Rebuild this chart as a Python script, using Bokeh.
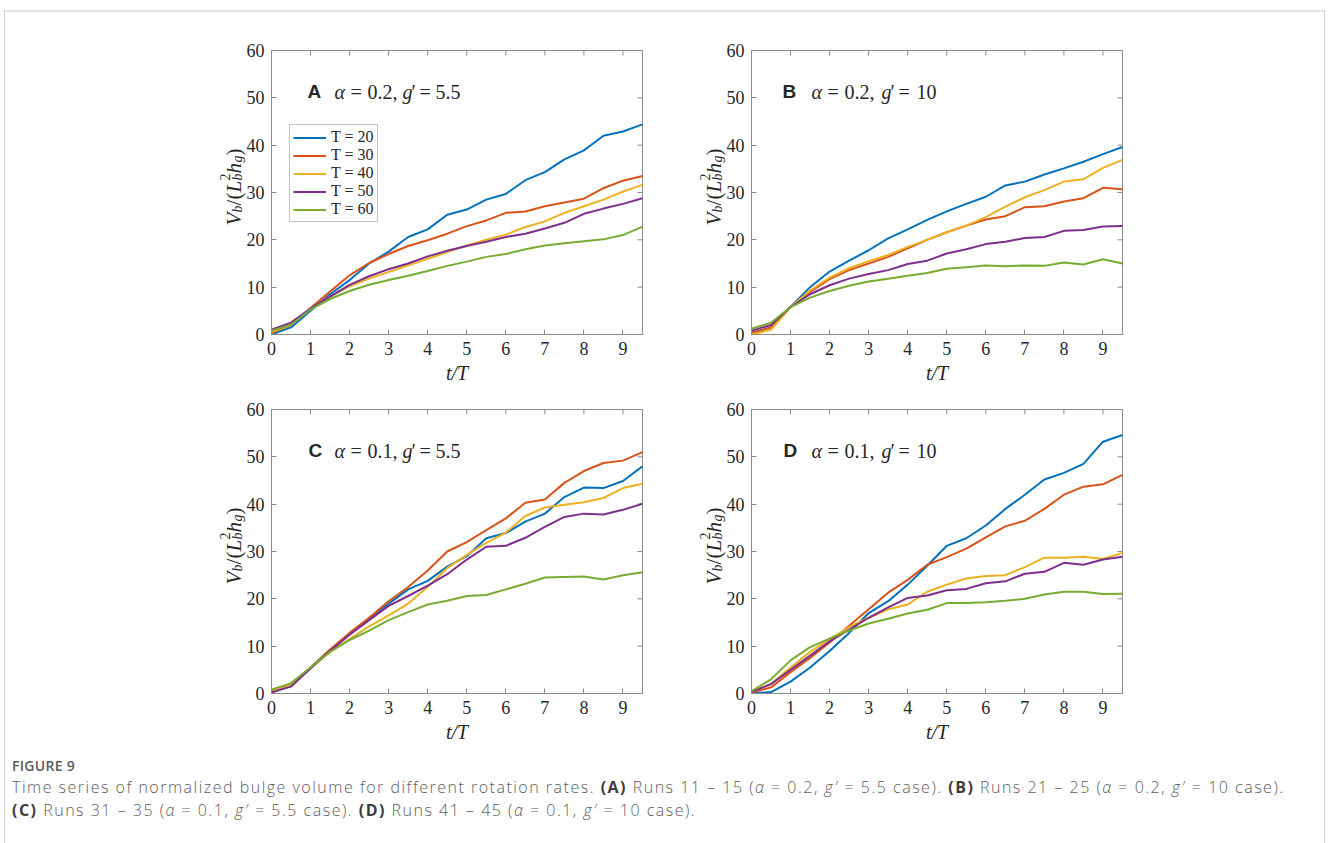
import math
from bokeh.plotting import figure
from bokeh.models import Label, Legend, LegendItem, FixedTicker, Range1d, Div
from bokeh.layouts import column, row
from bokeh.embed import file_html
from bokeh.resources import INLINE

# ---------------- data ----------------
t = [0.0, 0.5, 1.0, 1.5, 2.0, 2.5, 3.0, 3.5, 4.0, 4.5,
     5.0, 5.5, 6.0, 6.5, 7.0, 7.5, 8.0, 8.5, 9.0, 9.5]

series_labels = ["T = 20", "T = 30", "T = 40", "T = 50", "T = 60"]
colors = ["#0072BD", "#D95319", "#EDB120", "#7E2F8E", "#77AC30"]
x_ticks = [0, 1, 2, 3, 4, 5, 6, 7, 8, 9]
y_ticks = [0, 10, 20, 30, 40, 50, 60]

# Panel A: alpha = 0.2, g' = 5.5
a_T20 = [0.0, 1.5, 5.0, 8.5, 11.5, 15.0, 17.5, 20.6, 22.2, 25.3, 26.4, 28.5, 29.7, 32.6, 34.3, 37.0, 38.9, 42.0, 42.9, 44.4]
a_T30 = [0.3, 2.0, 5.6, 9.1, 12.5, 15.1, 17.0, 18.7, 19.9, 21.3, 22.9, 24.1, 25.7, 26.0, 27.1, 27.9, 28.7, 30.9, 32.5, 33.5]
a_T40 = [0.5, 2.0, 5.5, 8.0, 10.2, 11.8, 13.2, 14.6, 16.0, 17.4, 18.8, 20.0, 21.1, 22.7, 23.9, 25.7, 27.1, 28.5, 30.2, 31.6]
a_T50 = [1.0, 2.5, 5.5, 8.0, 10.5, 12.3, 13.8, 15.0, 16.5, 17.7, 18.7, 19.6, 20.6, 21.3, 22.4, 23.6, 25.5, 26.6, 27.6, 28.8]
a_T60 = [0.8, 2.0, 5.3, 7.5, 9.2, 10.5, 11.5, 12.4, 13.4, 14.5, 15.4, 16.4, 17.0, 18.0, 18.8, 19.3, 19.7, 20.1, 21.0, 22.8]

# Panel B: alpha = 0.2, g' = 10
b_T20 = [0.3, 1.5, 5.8, 10.0, 13.3, 15.6, 17.8, 20.3, 22.2, 24.2, 26.0, 27.6, 29.1, 31.5, 32.3, 33.8, 35.1, 36.5, 38.1, 39.6]
b_T30 = [0.3, 1.5, 5.8, 9.0, 11.7, 13.6, 15.0, 16.4, 18.2, 20.0, 21.6, 23.0, 24.3, 25.0, 26.9, 27.1, 28.1, 28.8, 31.0, 30.7]
b_T40 = [0.0, 1.0, 5.8, 9.3, 12.0, 14.0, 15.5, 16.8, 18.5, 20.0, 21.6, 23.0, 24.8, 27.0, 29.0, 30.5, 32.3, 32.8, 35.2, 36.9]
b_T50 = [0.8, 2.0, 5.8, 8.5, 10.4, 11.8, 12.8, 13.6, 14.9, 15.6, 17.1, 18.0, 19.1, 19.6, 20.4, 20.6, 21.9, 22.1, 22.8, 22.9]
b_T60 = [1.2, 2.5, 5.8, 7.8, 9.2, 10.3, 11.2, 11.8, 12.4, 13.0, 13.9, 14.2, 14.6, 14.4, 14.6, 14.5, 15.2, 14.8, 15.9, 15.0]

# Panel C: alpha = 0.1, g' = 5.5
c_T20 = [0.3, 1.5, 5.5, 9.2, 12.6, 15.8, 19.0, 22.0, 23.8, 26.8, 29.0, 32.8, 33.9, 36.3, 38.0, 41.5, 43.5, 43.4, 44.9, 48.0]
c_T30 = [0.5, 1.8, 5.5, 9.3, 12.8, 16.0, 19.5, 22.5, 26.0, 30.0, 32.0, 34.5, 37.0, 40.3, 41.0, 44.5, 47.0, 48.7, 49.2, 51.0]
c_T40 = [0.5, 1.8, 5.5, 8.8, 11.5, 14.2, 16.5, 19.0, 22.5, 26.5, 29.3, 31.8, 34.0, 37.5, 39.3, 39.9, 40.4, 41.3, 43.4, 44.3]
c_T50 = [0.2, 1.5, 5.3, 9.0, 12.4, 15.5, 18.5, 20.6, 22.8, 25.2, 28.3, 31.0, 31.2, 32.9, 35.2, 37.3, 38.0, 37.8, 38.8, 40.1]
c_T60 = [0.8, 2.2, 5.5, 8.8, 11.3, 13.3, 15.5, 17.2, 18.8, 19.6, 20.6, 20.8, 22.0, 23.2, 24.5, 24.6, 24.7, 24.1, 25.0, 25.6]

# Panel D: alpha = 0.1, g' = 10
d_T20 = [0.0, 0.3, 2.5, 5.5, 9.0, 12.8, 17.0, 19.5, 23.0, 27.0, 31.2, 32.8, 35.5, 39.0, 42.0, 45.2, 46.6, 48.5, 53.2, 54.6]
d_T30 = [0.2, 1.3, 4.5, 7.5, 10.8, 14.3, 17.8, 21.3, 24.0, 27.2, 28.8, 30.6, 33.0, 35.3, 36.5, 39.0, 42.0, 43.7, 44.2, 46.2]
d_T40 = [0.3, 2.0, 5.5, 8.8, 11.5, 14.0, 16.0, 17.8, 18.8, 21.5, 23.0, 24.3, 24.8, 25.0, 26.7, 28.7, 28.7, 28.9, 28.4, 29.7]
d_T50 = [0.3, 2.0, 5.0, 8.0, 11.0, 13.5, 16.0, 18.2, 20.2, 20.7, 21.8, 22.1, 23.3, 23.7, 25.3, 25.7, 27.6, 27.2, 28.3, 28.9]
d_T60 = [0.5, 3.0, 7.0, 9.8, 11.6, 13.3, 14.8, 15.8, 16.9, 17.7, 19.1, 19.1, 19.3, 19.6, 20.0, 20.9, 21.5, 21.5, 21.0, 21.1]

panel_letters = ["A", "B", "C", "D"]
alpha_vals = ["0.2,", "0.2,", "0.1,", "0.1,"]
gprime_vals = ["5.5", "10", "5.5", "10"]

# ---------------- styling ----------------
FW, FH = 371, 284
X_MAX, Y_MAX = 9.5, 60
XPX = FW / X_MAX
YPX = FH / Y_MAX
SERIF = "Liberation Serif"
SANS = "Liberation Sans"
TXT = "#262626"
AX = "#8a8a8a"


def add_text(p, txt, x, y, size, style="normal", font=SERIF, angle=0.0):
    p.add_layout(Label(x=x, y=y, text=txt, text_font=font,
                       text_font_size=f"{size}px", text_font_style=style,
                       text_color=TXT, text_align="left", text_baseline="alphabetic",
                       angle=angle, angle_units="rad"))


def make_ylabel(frame_w, left, top, bottom, base_x):
    """Narrow transparent figure holding the rotated label V_b/(L_b^2 h_g)."""
    q = figure(frame_width=frame_w, frame_height=FH,
               x_range=Range1d(0, frame_w), y_range=Range1d(0, FH),
               output_backend="svg", toolbar_location=None,
               x_axis_location=None, y_axis_location=None,
               min_border_left=left, min_border_right=0,
               min_border_top=top, min_border_bottom=bottom)
    q.grid.visible = False
    q.outline_line_color = None
    q.background_fill_alpha = 0
    q.border_fill_alpha = 0
    s0 = 109
    rot = math.pi / 2
    pieces = [("V", 0, 0, 21, "italic"), ("b", 13, 4, 14, "italic"),
              ("/", 20, 0, 21, "normal"), ("(", 26, 0, 21, "normal"),
              ("L", 33, 0, 21, "italic"), ("b", 45, 4, 14, "italic"),
              ("2", 45, -9, 14, "normal"), ("h", 52, 0, 21, "italic"),
              ("g", 63, 4, 14, "italic"), (")", 70, 0, 21, "normal")]
    for txt, s, b, size, style in pieces:
        add_text(q, txt, base_x + b, s0 + s, size, style, SERIF, rot)
    return q


def make_panel(idx, ys, left, right, top, bottom, overlap, legend=False):
    p = figure(frame_width=FW, frame_height=FH,
               x_range=Range1d(0, X_MAX), y_range=Range1d(0, Y_MAX),
               output_backend="svg", toolbar_location=None,
               min_border_left=left, min_border_right=right,
               min_border_top=top, min_border_bottom=bottom,
               margin=(0, 0, 0, -overlap))
    p.grid.visible = False
    p.outline_line_color = AX
    p.outline_line_width = 1
    p.background_fill_color = "white"
    p.border_fill_alpha = 0

    for ax in (p.xaxis[0], p.yaxis[0]):
        ax.axis_line_color = AX
        ax.major_tick_line_color = AX
        ax.major_tick_in = 5
        ax.major_tick_out = 0
        ax.minor_tick_line_color = None
        ax.major_label_text_font = SERIF
        ax.major_label_text_font_size = "18px"
        ax.major_label_text_color = TXT
        ax.major_label_standoff = 7
    p.xaxis.ticker = FixedTicker(ticks=x_ticks)
    p.yaxis.ticker = FixedTicker(ticks=y_ticks)
    p.xaxis.axis_label = "t/T"
    p.xaxis.axis_label_text_font = SERIF
    p.xaxis.axis_label_text_font_size = "20px"
    p.xaxis.axis_label_text_font_style = "italic"
    p.xaxis.axis_label_text_color = TXT
    p.xaxis.axis_label_standoff = 4

    # mirrored inward ticks on the right and top edges of the box
    p.ray(x=[X_MAX] * len(y_ticks), y=y_ticks, length=5, length_units="screen",
          angle=math.pi, line_color=AX, line_width=1)
    p.ray(x=x_ticks, y=[Y_MAX] * len(x_ticks), length=5, length_units="screen",
          angle=-math.pi / 2, line_color=AX, line_width=1)

    items = []
    for lab, col, y in zip(series_labels, colors, ys):
        r = p.line(t, y, line_color=col, line_width=2)
        items.append(LegendItem(label=lab, renderers=[r]))

    if legend:
        lg = Legend(items=items, location=(18, 112),
                    label_text_font=SERIF, label_text_font_size="16px",
                    label_text_color=TXT, glyph_width=33, glyph_height=17,
                    label_height=17, label_standoff=5, spacing=0, padding=3,
                    margin=0, border_line_color=AX, border_line_width=1,
                    background_fill_color="white", background_fill_alpha=1.0)
        p.add_layout(lg, "center")

    # panel title pieces (positions in frame pixels)
    letter_x = [36, 31, 37, 32][idx]
    wide = idx in (1, 3)
    by = 243 / YPX
    add_text(p, panel_letters[idx], letter_x / XPX, by, 19, "bold", SANS)
    a0 = 63 if not wide else 60
    g_shift = 2 if wide else 0
    add_text(p, "α", a0 / XPX, by, 20, "italic")
    add_text(p, "=", (a0 + 16) / XPX, by, 20)
    add_text(p, alpha_vals[idx], (a0 + 33) / XPX, by, 20)
    add_text(p, "g", (a0 + 68 + g_shift) / XPX, by, 20, "italic")
    add_text(p, "′", (a0 + 77 + g_shift) / XPX, by, 20)
    add_text(p, "=", (a0 + 85 + g_shift) / XPX, by, 20)
    add_text(p, gprime_vals[idx], (a0 + (105 if wide else 101)) / XPX, by, 20)
    return p


# row 1 (frames at y 50..334), row 2 (frames at y 409..693)
lA = make_ylabel(56, 204, 50, 58, 29)
pA = make_panel(0, [a_T20, a_T30, a_T40, a_T50, a_T60], 27, 38, 50, 58, 17, legend=True)
lB = make_ylabel(61, 0, 50, 58, 33)
pB = make_panel(1, [b_T20, b_T30, b_T40, b_T50, b_T60], 27, 20, 50, 58, 18)
lC = make_ylabel(56, 204, 17, 58, 29)
pC = make_panel(2, [c_T20, c_T30, c_T40, c_T50, c_T60], 27, 38, 17, 58, 17)
lD = make_ylabel(61, 0, 17, 58, 33)
pD = make_panel(3, [d_T20, d_T30, d_T40, d_T50, d_T60], 27, 20, 17, 58, 18)

caption_html = """
<div style="position:fixed;left:4px;top:10px;width:1321px;height:900px;border-left:1px solid #cfcfcf;border-right:1px solid #cfcfcf;border-top:2px solid #e2e2e2;pointer-events:none;"></div>
<div style="font-family:'Open Sans',sans-serif;color:#5c5c5c;font-size:16px;font-weight:300;letter-spacing:1.5px;line-height:23px;padding:0 0 0 7px;white-space:nowrap;">
<div style="font-weight:600;font-size:14px;letter-spacing:0.3px;line-height:20px;color:#5a5a5a;">FIGURE 9</div>
Time series of normalized bulge volume for different rotation rates. <b style="color:#3c3c3c;font-weight:700">(A)</b> Runs 11 – 15 (<i>α</i> = 0.2, <i>g′</i> = 5.5 case). <b style="color:#3c3c3c;font-weight:700">(B)</b> Runs 21 – 25 (<i>α</i> = 0.2, <i>g′</i> = 10 case).<br>
<b style="color:#3c3c3c;font-weight:700">(C)</b> Runs 31 – 35 (<i>α</i> = 0.1, <i>g′</i> = 5.5 case). <b style="color:#3c3c3c;font-weight:700">(D)</b> Runs 41 – 45 (<i>α</i> = 0.1, <i>g′</i> = 10 case).
</div>
"""
caption = Div(text=caption_html, width=1310, height=80)

layout = column(row(lA, pA, lB, pB), row(lC, pC, lD, pD), caption)

with open("out.html", "w") as f:
    f.write(file_html(layout, INLINE))
